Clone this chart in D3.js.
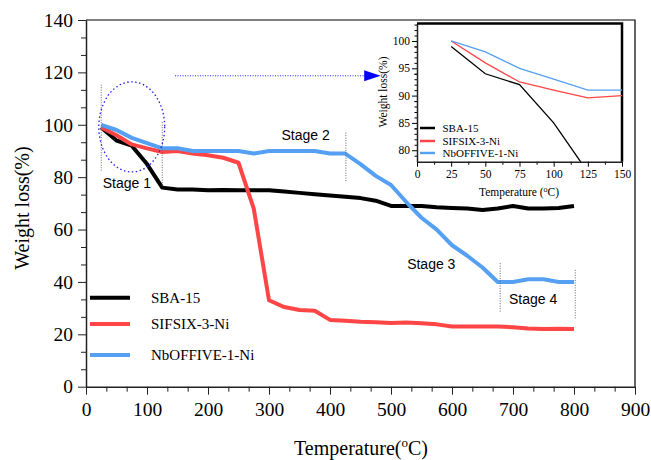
<!DOCTYPE html>
<meta charset="utf-8">
<style>
  body { margin: 0; background: #fff; }
  text { font-family: "Liberation Serif", "Times New Roman", serif; fill: #000; }
  .stage { font: 14px "Liberation Sans", Arial, sans-serif; }
  .domain { stroke: #222; }
</style>
<body>
<script src="https://d3js.org/d3.v7.min.js"></script>
<script>

var width = 651,
    height = 460;

// main chart data
var temps = [25, 50, 75, 100, 125, 150, 175, 200, 225, 250, 275, 300, 325, 350, 375, 400,
             425, 450, 475, 500, 525, 550, 575, 600, 625, 650, 675, 700, 725, 750, 775, 800];
var sba15 = [99, 94, 92, 85, 76, 75.3, 75.3, 75, 75.1, 75, 75, 75, 74.5, 74, 73.5, 73,
             72.5, 72, 71, 69, 69, 69, 68.5, 68.2, 68, 67.5, 68, 69, 68, 68, 68.2, 69];
var sifsix = [99, 96, 92.5, 91, 89.6, 90, 89, 88.4, 87.4, 85.5, 68, 33, 30.4, 29.3, 29, 25.5,
              25.2, 24.8, 24.6, 24.3, 24.5, 24.2, 23.8, 23, 23, 23, 23, 22.7, 22.2, 22, 22.1, 22];
var nboffive = [100, 98, 95, 93, 91, 91, 90, 90, 90, 90, 89, 90, 90, 90, 90, 89,
                89, 85, 80.5, 77, 70.5, 64.5, 60, 54, 50, 45.5, 40, 40, 41, 41, 40, 40];

// inset data
var insetTemps = [25, 50, 75, 100, 125, 150];
var insetSba = [99, 94, 92, 85, 76, null];
var insetSif = [100, 96, 92.5, 91, 89.6, 90];
var insetNb = [100, 98, 95, 93, 91, 91];

var names = ["SBA-15", "SIFSIX-3-Ni", "NbOFFIVE-1-Ni"];
var colors = ["#000000", "#ff4545", "#55a0f2"];

var xTicks = [0, 100, 200, 300, 400, 500, 600, 700, 800, 900];
var yTicks = [0, 20, 40, 60, 80, 100, 120, 140];
var insetXTicks = [0, 25, 50, 75, 100, 125, 150];
var insetYTicks = [80, 85, 90, 95, 100];

var svg = d3.select("body").append("svg")
  .attr("width", width)
  .attr("height", height);

var x = d3.scaleLinear().domain([0, 900]).range([86, 635]);
var y = d3.scaleLinear().domain([0, 140]).range([386.7, 20]);

// minor ticks: two between each pair of major ticks
var xMinor = [], yMinor = [];
xTicks.slice(1).forEach(function(t) { xMinor.push(t - 100 / 3, t - 200 / 3); });
yTicks.slice(1).forEach(function(t) { yMinor.push(t - 20 / 3, t - 40 / 3); });

svg.append("g")
  .attr("transform", "translate(0," + y(0) + ")")
  .call(d3.axisBottom(x).tickValues(xMinor).tickSize(5).tickFormat(""))
  .call(function(g) { g.select(".domain").remove(); });

svg.append("g")
  .attr("transform", "translate(" + x(0) + ",0)")
  .call(d3.axisLeft(y).tickValues(yMinor).tickSize(5).tickFormat(""))
  .call(function(g) { g.select(".domain").remove(); });

var xAxis = svg.append("g")
  .attr("transform", "translate(0," + y(0) + ")")
  .call(d3.axisBottom(x).tickValues(xTicks).tickSize(8).tickSizeOuter(0).tickPadding(7));

var yAxis = svg.append("g")
  .attr("transform", "translate(" + x(0) + ",0)")
  .call(d3.axisLeft(y).tickValues(yTicks).tickSize(8).tickSizeOuter(0).tickPadding(5));

svg.selectAll(".tick text")
  .style("font-family", "Liberation Serif")
  .style("font-size", "19.5px");
svg.selectAll(".tick line").attr("stroke", "#222");
svg.selectAll(".domain").attr("stroke-width", 1.5);

// top and right frame
svg.append("path")
  .attr("d", "M" + x(0) + "," + y(140) + "H" + x(900) + "V" + y(0))
  .attr("fill", "none")
  .attr("stroke", "#000")
  .attr("stroke-width", 1.2);

// axis titles
var xt = svg.append("text")
  .attr("x", 361)
  .attr("y", 455)
  .attr("text-anchor", "middle")
  .style("font-size", "20px");
xt.append("tspan").text("Temperature(");
xt.append("tspan").attr("dy", -8).style("font-size", "13px").text("o");
xt.append("tspan").attr("dy", 8).text("C)");

svg.append("text")
  .attr("transform", "translate(29,208) rotate(-90)")
  .attr("text-anchor", "middle")
  .style("font-size", "20px")
  .text("Weight loss(%)");

// series lines
var line = d3.line()
  .x(function(d) { return x(d[0]); })
  .y(function(d) { return y(d[1]); });

[sba15, sifsix, nboffive].forEach(function(s, i) {
  svg.append("path")
    .datum(temps.map(function(t, j) { return [t, s[j]]; }))
    .attr("d", line)
    .attr("fill", "none")
    .attr("stroke", colors[i])
    .attr("stroke-width", 4)
    .attr("stroke-linejoin", "round");
});

// stage annotations
function vdots(t, w0, w1) {
  svg.append("line")
    .attr("x1", x(t)).attr("x2", x(t))
    .attr("y1", y(w0)).attr("y2", y(w1))
    .attr("stroke", "#666")
    .attr("stroke-width", 1)
    .attr("stroke-dasharray", "1,1.5");
}
vdots(25, 115.3, 82.5);
vdots(125, 101, 76.4);
vdots(426, 97, 78);
vdots(679, 47.2, 28.1);
vdots(802, 44.6, 25.8);

svg.append("ellipse")
  .attr("cx", x(75)).attr("cy", y(99.2))
  .attr("rx", x(129) - x(75)).attr("ry", y(82) - y(99.2))
  .attr("fill", "none")
  .attr("stroke", "#2222ee")
  .attr("stroke-width", 1.3)
  .attr("stroke-dasharray", "1.5,2.5");

var stages = [["Stage 1", 67, 76], ["Stage 2", 360, 94], ["Stage 3", 566, 45], ["Stage 4", 733, 31.6]];
svg.selectAll(".stage")
  .data(stages)
  .enter().append("text")
  .attr("class", "stage")
  .attr("x", function(d) { return x(d[1]); })
  .attr("y", function(d) { return y(d[2]); })
  .attr("text-anchor", "middle")
  .text(function(d) { return d[0]; });

// arrow pointing to inset
svg.append("line")
  .attr("x1", x(146)).attr("x2", x(456))
  .attr("y1", y(118.7)).attr("y2", y(118.7))
  .attr("stroke", "#2222ee")
  .attr("stroke-width", 1)
  .attr("stroke-dasharray", "1,1.5");
svg.append("path")
  .attr("d", "M" + x(456) + "," + (y(118.7) - 5.5) + "L" + x(483) + "," + y(118.7) + "L" + x(456) + "," + (y(118.7) + 5.5) + "Z")
  .attr("fill", "#0000ff");

// main legend
var legend = svg.append("g");
var legY = [297.7, 324, 355];
names.forEach(function(n, i) {
  legend.append("line")
    .attr("x1", 90).attr("x2", 130)
    .attr("y1", legY[i]).attr("y2", legY[i])
    .attr("stroke", colors[i])
    .attr("stroke-width", 4);
  legend.append("text")
    .attr("x", 151)
    .attr("y", legY[i] + 5)
    .style("font-size", "15px")
    .text(n);
});

// inset
var ix = d3.scaleLinear().domain([0, 150]).range([417, 622]);
var iy = d3.scaleLinear().domain([77.9, 103.2]).range([161.7, 23.5]);
var inset = svg.append("g");

inset.append("rect")
  .attr("x", ix(0)).attr("y", iy(103.2))
  .attr("width", ix(150) - ix(0)).attr("height", iy(77.9) - iy(103.2))
  .attr("fill", "#fff");

inset.append("defs").append("clipPath").attr("id", "iclip")
  .append("rect")
  .attr("x", ix(0)).attr("y", iy(103.2))
  .attr("width", ix(150) - ix(0)).attr("height", iy(77.9) - iy(103.2));

var ixMinor = [12.5, 37.5, 62.5, 87.5, 112.5, 137.5];
var iyMinor = [];
insetYTicks.forEach(function(t) { iyMinor.push(t - 1, t + 1, t + 2, t + 3, t + 4); });
iyMinor = iyMinor.filter(function(v) { return v > 77.9 && v < 103.2 && insetYTicks.indexOf(v) < 0; });

inset.append("g")
  .attr("transform", "translate(0," + iy(77.9) + ")")
  .call(d3.axisBottom(ix).tickValues(ixMinor).tickSize(3).tickFormat(""))
  .call(function(g) { g.select(".domain").remove(); });
inset.append("g")
  .attr("transform", "translate(" + ix(0) + ",0)")
  .call(d3.axisLeft(iy).tickValues(iyMinor).tickSize(2.5).tickFormat(""))
  .call(function(g) { g.select(".domain").remove(); });

var ixAxis = inset.append("g")
  .attr("transform", "translate(0," + iy(77.9) + ")")
  .call(d3.axisBottom(ix).tickValues(insetXTicks).tickSize(5).tickSizeOuter(0).tickPadding(3));
var iyAxis = inset.append("g")
  .attr("transform", "translate(" + ix(0) + ",0)")
  .call(d3.axisLeft(iy).tickValues(insetYTicks).tickSize(5).tickSizeOuter(0).tickPadding(2));

inset.selectAll(".tick text")
  .style("font-family", "Liberation Serif")
  .style("font-size", "11.5px");
inset.selectAll(".domain").attr("stroke", "#000").attr("stroke-width", 1.5);

inset.append("path")
  .attr("d", "M" + ix(0) + "," + iy(103.2) + "H" + ix(150) + "V" + iy(77.9))
  .attr("fill", "none")
  .attr("stroke", "#000")
  .attr("stroke-width", 2.5);

var ilines = inset.append("g").attr("clip-path", "url(#iclip)");
var iline = d3.line()
  .defined(function(d) { return d[1] != null; })
  .x(function(d) { return ix(d[0]); })
  .y(function(d) { return iy(d[1]); });

[insetSba, insetSif, insetNb].forEach(function(s, i) {
  ilines.append("path")
    .datum(insetTemps.map(function(t, j) { return [t, s[j]]; }))
    .attr("d", iline)
    .attr("fill", "none")
    .attr("stroke", colors[i])
    .attr("stroke-width", 1.3);
});

var iLegY = [128, 141, 153];
names.forEach(function(n, i) {
  inset.append("line")
    .attr("x1", 420).attr("x2", 435)
    .attr("y1", iLegY[i]).attr("y2", iLegY[i])
    .attr("stroke", colors[i])
    .attr("stroke-width", 2.5);
  inset.append("text")
    .attr("x", 442.5)
    .attr("y", iLegY[i] + 3.5)
    .style("font-size", "11px")
    .text(n);
});

var ixt = inset.append("text")
  .attr("x", 519)
  .attr("y", 196)
  .attr("text-anchor", "middle")
  .style("font-size", "11.5px");
ixt.append("tspan").text("Temperature (");
ixt.append("tspan").attr("dy", -4).style("font-size", "8px").text("o");
ixt.append("tspan").attr("dy", 4).text("C)");

inset.append("text")
  .attr("transform", "translate(387,92) rotate(-90)")
  .attr("text-anchor", "middle")
  .style("font-size", "11.5px")
  .text("Weight loss(%)");

</script>
